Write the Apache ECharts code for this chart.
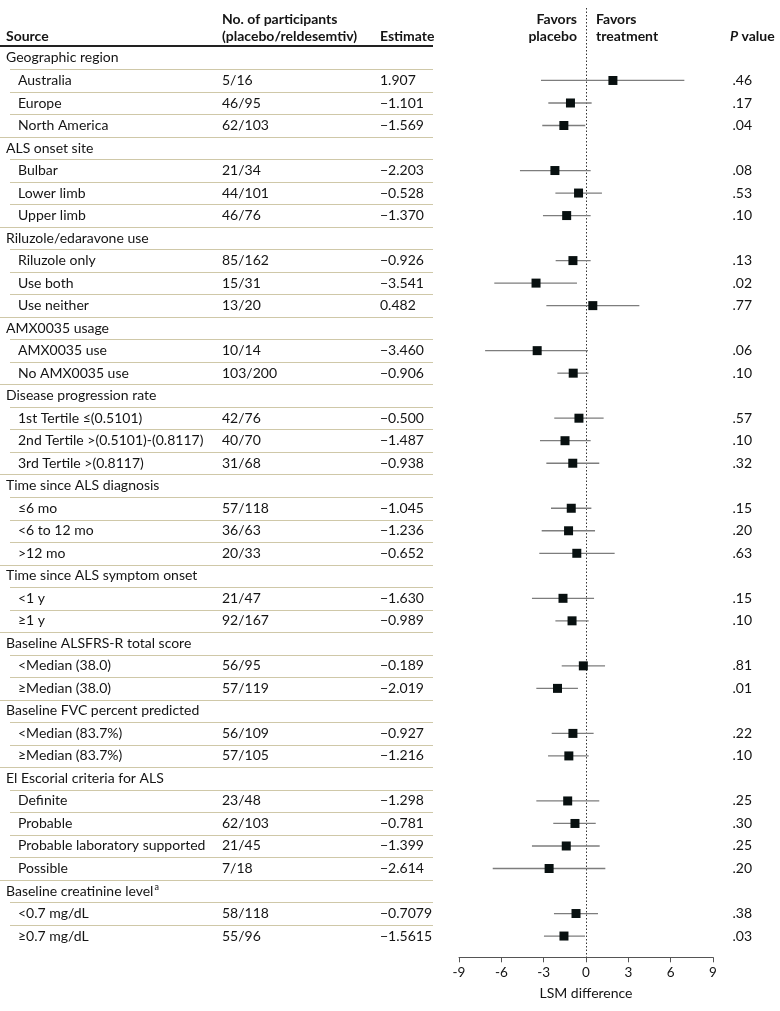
<!DOCTYPE html>
<html><head><meta charset="utf-8">
<script src="https://cdn.jsdelivr.net/npm/echarts@6/dist/echarts.min.js"></script>
<style>html,body{margin:0;padding:0;background:#fff}#c{width:780px;height:1011px}</style>
</head><body><div id="c"></div>
<script>
const sources = ["Geographic region","Australia","Europe","North America","ALS onset site","Bulbar","Lower limb","Upper limb","Riluzole/edaravone use","Riluzole only","Use both","Use neither","AMX0035 usage","AMX0035 use","No AMX0035 use","Disease progression rate","1st Tertile \u2264(0.5101)","2nd Tertile >(0.5101)-(0.8117)","3rd Tertile >(0.8117)","Time since ALS diagnosis","\u22646 mo","<6 to 12 mo",">12 mo","Time since ALS symptom onset","<1 y","\u22651 y","Baseline ALSFRS-R total score","<Median (38.0)","\u2265Median (38.0)","Baseline FVC percent predicted","<Median (83.7%)","\u2265Median (83.7%)","El Escorial criteria for ALS","Definite","Probable","Probable laboratory supported","Possible","Baseline creatinine level","<0.7 mg/dL","\u22650.7 mg/dL"];
const footnoteRow = 37;
const participants = [null,"5/16","46/95","62/103",null,"21/34","44/101","46/76",null,"85/162","15/31","13/20",null,"10/14","103/200",null,"42/76","40/70","31/68",null,"57/118","36/63","20/33",null,"21/47","92/167",null,"56/95","57/119",null,"56/109","57/105",null,"23/48","62/103","21/45","7/18",null,"58/118","55/96"];
const estimates = [null,"1.907","\u22121.101","\u22121.569",null,"\u22122.203","\u22120.528","\u22121.370",null,"\u22120.926","\u22123.541","0.482",null,"\u22123.460","\u22120.906",null,"\u22120.500","\u22121.487","\u22120.938",null,"\u22121.045","\u22121.236","\u22120.652",null,"\u22121.630","\u22120.989",null,"\u22120.189","\u22122.019",null,"\u22120.927","\u22121.216",null,"\u22121.298","\u22120.781","\u22121.399","\u22122.614",null,"\u22120.7079","\u22121.5615"];
const lower = [null,-3.19,-2.67,-3.10,null,-4.68,-2.17,-3.05,null,-2.15,-6.50,-2.81,null,-7.15,-2.03,null,-2.25,-3.26,-2.81,null,-2.48,-3.14,-3.31,null,-3.83,-2.17,null,-1.72,-3.52,null,-2.43,-2.69,null,-3.52,-2.32,-3.83,-6.61,null,-2.27,-2.98];
const upper = [null,6.97,0.40,-0.05,null,0.33,1.13,0.33,null,0.33,-0.64,3.78,null,0.14,0.17,null,1.25,0.33,0.94,null,0.38,0.64,2.03,null,0.57,0.19,null,1.35,-0.57,null,0.54,0.19,null,0.94,0.69,0.97,1.37,null,0.85,-0.07];
const pValues = [null,".46",".17",".04",null,".08",".53",".10",null,".13",".02",".77",null,".06",".10",null,".57",".10",".32",null,".15",".20",".63",null,".15",".10",null,".81",".01",null,".22",".10",null,".25",".30",".25",".20",null,".38",".03"];
const xTicks = {min:-9, max:9, interval:3};

const FONT = 'Lato';
const TXT = '#141414';
const num = s => Number(s.replace('\u2212','-'));
const rowIdx = sources.map((s,i)=>String(i));
const isHeader = i => participants[i] === null;

const chart = echarts.init(document.getElementById('c'), null, {renderer:'canvas'});

const tableData = sources.map((s,i)=>[0,i]);
const ciData = [], ptData = [], pData = [];
sources.forEach((s,i)=>{
  if (estimates[i] !== null) {
    ciData.push([lower[i], upper[i], i]);
    ptData.push([num(estimates[i]), i]);
    pData.push([0, i]);
  }
});

function textEl(x, y, text, opts) {
  return {type:'text', style: Object.assign({x, y, text, fill:TXT, fontFamily:FONT, fontSize:14, verticalAlign:'middle', align:'left'}, opts||{})};
}

const option = {
  animation:false,
  backgroundColor:'#fff',
  grid:[
    {left:459, right:67, top:46.7, bottom:63.7},
    {left:0, width:440, top:46.7, bottom:63.7}
  ],
  xAxis:[
    {gridIndex:0, type:'value', min:xTicks.min, max:xTicks.max, interval:xTicks.interval, offset:10,
     axisLine:{show:true, lineStyle:{color:'#555', width:1}},
     axisTick:{show:true, length:5, lineStyle:{color:'#555'}},
     axisLabel:{color:TXT, fontFamily:FONT, fontSize:13.5, margin:8},
     splitLine:{show:false},
     name:'LSM difference', nameLocation:'middle', nameGap:29,
     nameTextStyle:{color:TXT, fontFamily:FONT, fontSize:14}},
    {gridIndex:1, type:'value', min:0, max:440, show:false}
  ],
  yAxis:[
    {gridIndex:0, type:'category', data:rowIdx, inverse:true, show:false},
    {gridIndex:1, type:'category', data:rowIdx, inverse:true, show:false}
  ],
  graphic:[
    {type:'text', left:6, top:29, style:{text:'Source', font:'bold 14px '+FONT, fill:TXT}},
    {type:'text', left:222, top:12, style:{text:'No. of participants', font:'bold 14px '+FONT, fill:TXT}},
    {type:'text', left:222, top:29, style:{text:'(placebo/reldesemtiv)', font:'bold 14px '+FONT, fill:TXT}},
    {type:'text', left:380, top:29, style:{text:'Estimate', font:'bold 14px '+FONT, fill:TXT}},
    {type:'text', right:780-577, top:12, style:{text:'Favors', font:'bold 14px '+FONT, fill:TXT, align:'right'}},
    {type:'text', right:780-577, top:29, style:{text:'placebo', font:'bold 14px '+FONT, fill:TXT, align:'right'}},
    {type:'text', left:596, top:12, style:{text:'Favors', font:'bold 14px '+FONT, fill:TXT}},
    {type:'text', left:596, top:29, style:{text:'treatment', font:'bold 14px '+FONT, fill:TXT}},
    {type:'text', left:730, top:29, style:{text:'{i|P} {b|value}', fill:TXT,
      rich:{i:{font:'italic bold 14px '+FONT, fill:TXT}, b:{font:'bold 14px '+FONT, fill:TXT}}}},
    {type:'line', shape:{x1:0, y1:46, x2:433, y2:46}, style:{stroke:'#222', lineWidth:2}}
  ],
  series:[
    {
      type:'custom', xAxisIndex:1, yAxisIndex:1, data:tableData, silent:true,
      renderItem:(params, api)=>{
        const i = api.value(1);
        const y = api.coord([0,i])[1];
        const bw = api.size([0,1])[1];
        const x0 = params.coordSys.x;
        const children = [];
        const header = isHeader(i);
        if (i === footnoteRow) {
          children.push({type:'text', style:{x:x0+6, y, text:'{n|'+sources[i]+'}{s|a}', verticalAlign:'middle', fill:TXT,
            rich:{n:{fontFamily:FONT, fontSize:14, fill:TXT}, s:{fontFamily:FONT, fontSize:9, fill:TXT, padding:[0,0,8,1]}}}});
        } else {
          children.push(textEl(x0 + (header?6:18), y, sources[i]));
        }
        if (!header) {
          children.push(textEl(x0+222, y, participants[i]));
          children.push(textEl(x0+380, y, estimates[i]));
        }
        const last = i === sources.length-1;
        if (!last) {
          const nextHeader = isHeader(i+1);
          const ly = Math.round(y + bw/2) + 0.5;
          children.push({type:'line', shape:{x1: x0 + (nextHeader && !header ? 0 : 10), y1:ly, x2:x0+433, y2:ly},
            style:{stroke:'#cfc8a8', lineWidth:1}});
        }
        return {type:'group', children};
      }
    },
    {
      type:'custom', xAxisIndex:0, yAxisIndex:0, data:[[0,0]], silent:true, z:1,
      renderItem:(params, api)=>{
        const x = Math.round(api.coord([0,0])[0]) + 0.5;
        const cs = params.coordSys;
        return {type:'line', shape:{x1:x, y1:8, x2:x, y2:cs.y+cs.height+10},
          style:{stroke:'#333', lineWidth:1, lineDash:[1.5,2]}};
      }
    },
    {
      type:'custom', xAxisIndex:0, yAxisIndex:0, data:ciData, silent:true, z:2,
      encode:{x:[0,1], y:2},
      renderItem:(params, api)=>{
        const i = api.value(2);
        const p1 = api.coord([api.value(0), i]);
        const p2 = api.coord([api.value(1), i]);
        return {type:'line', shape:{x1:p1[0], y1:p1[1], x2:p2[0], y2:p2[1]},
          style:{stroke:'#7d7d7d', lineWidth:1.3}};
      }
    },
    {
      type:'scatter', xAxisIndex:0, yAxisIndex:0, data:ptData, symbol:'rect', symbolSize:9, z:3,
      itemStyle:{color:'#081010', opacity:1}, silent:true
    },
    {
      type:'custom', xAxisIndex:0, yAxisIndex:0, data:pData, silent:true,
      encode:{y:1},
      renderItem:(params, api)=>{
        const i = api.value(1);
        const y = api.coord([0,i])[1];
        const cs = params.coordSys;
        return textEl(cs.x + cs.width + 39, y, pValues[i], {align:'right'});
      }
    }
  ]
};
chart.setOption(option);
</script></body></html>
